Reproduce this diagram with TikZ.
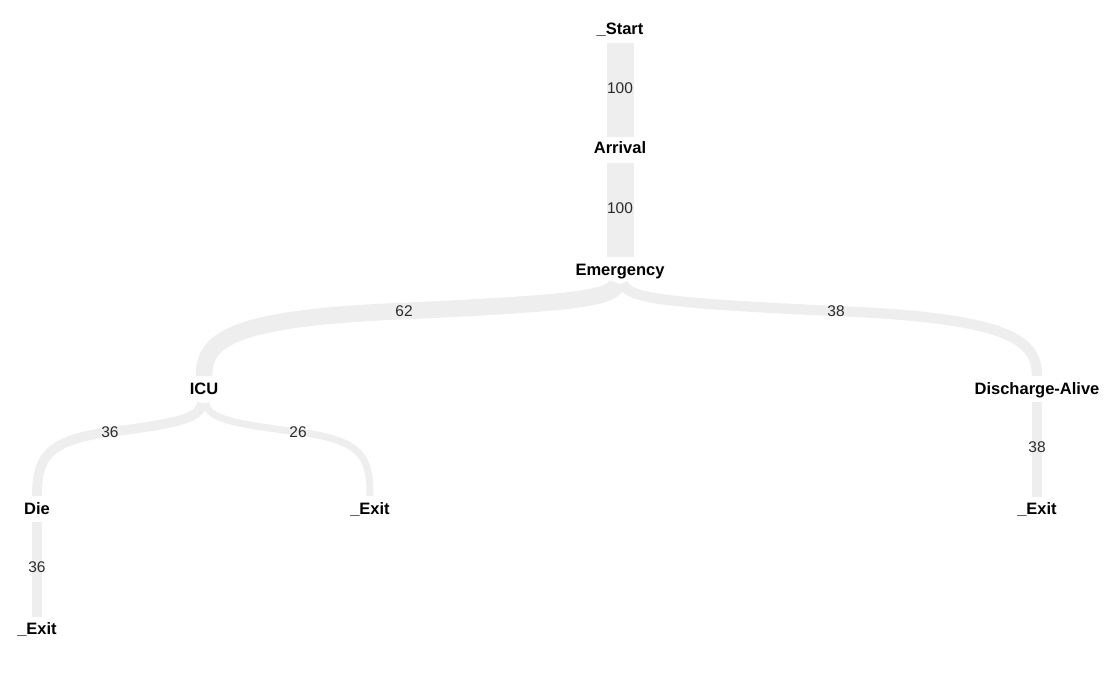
\documentclass[tikz,border=0pt]{standalone}
\usepackage{fontspec}
\setmainfont{Liberation Sans}
\usetikzlibrary{calc}
\definecolor{bandgray}{HTML}{EEEEEE}
\definecolor{lblgray}{HTML}{2A2A2A}
\begin{document}
\begin{tikzpicture}[x=1pt,y=-1pt,
  state/.style={font=\fontsize{16.5}{19}\selectfont\bfseries, inner sep=0pt, anchor=base},
  band/.style={draw=bandgray, line cap=butt},
  cnt/.style={font=\fontsize{15.5}{18}\selectfont, text=lblgray, inner sep=0pt}]
\useasboundingbox (0,0) rectangle (1117,682);
% nodes (placed at baselines)
\node[state] (start) at (620,35) {\_Start};
\node[state] (arr) at (620,154) {Arrival};
\node[state] (em) at (620,275) {Emergency};
\node[state] (icu) at (204,394) {ICU};
\node[state] (da) at (1037,394) {Discharge-Alive};
\node[state] (die) at (37,514) {Die};
\node[state] (exA) at (370,514) {\_Exit};
\node[state] (exB) at (1037,514) {\_Exit};
\node[state] (exC) at (37,634) {\_Exit};
% bands
\draw[band, line width=27pt] ($(start.base)+(0,8)$) -- node[cnt, pos=0.48] {100} ($(arr.base)+(0,-17)$);
\draw[band, line width=27pt] ($(arr.base)+(0,9)$) -- node[cnt, pos=0.48] {100} ($(em.base)+(0,-18)$);
\draw[band, line width=16.7pt] ($(em.base)+(-3,8)$) .. controls (614,298) and (580,303) .. (404,311) node[cnt] {62}
   .. controls (230,318) and ($(icu.base)+(0,-54)$) .. ($(icu.base)+(0,-18)$);
\draw[band, line width=10.3pt] ($(em.base)+(3,8)$) .. controls (627,298) and (660,303) .. (836,311) node[cnt] {38}
   .. controls (1010,318) and ($(da.base)+(0,-54)$) .. ($(da.base)+(0,-18)$);
\draw[band, line width=9.7pt] ($(icu.base)+(-2,9)$) .. controls (200,418) and (180,423) .. (110,432) node[cnt] {36}
   .. controls (45,440) and ($(die.base)+(0,-54)$) .. ($(die.base)+(0,-18)$);
\draw[band, line width=7pt] ($(icu.base)+(2,9)$) .. controls (208,418) and (228,423) .. (298,432) node[cnt] {26}
   .. controls (365,440) and ($(exA.base)+(0,-54)$) .. ($(exA.base)+(0,-18)$);
\draw[band, line width=9.7pt] ($(die.base)+(0,8)$) -- node[cnt, pos=0.48] {36} ($(exC.base)+(0,-17)$);
\draw[band, line width=10.3pt] ($(da.base)+(0,8)$) -- node[cnt, pos=0.48] {38} ($(exB.base)+(0,-17)$);
\end{tikzpicture}
\end{document}
